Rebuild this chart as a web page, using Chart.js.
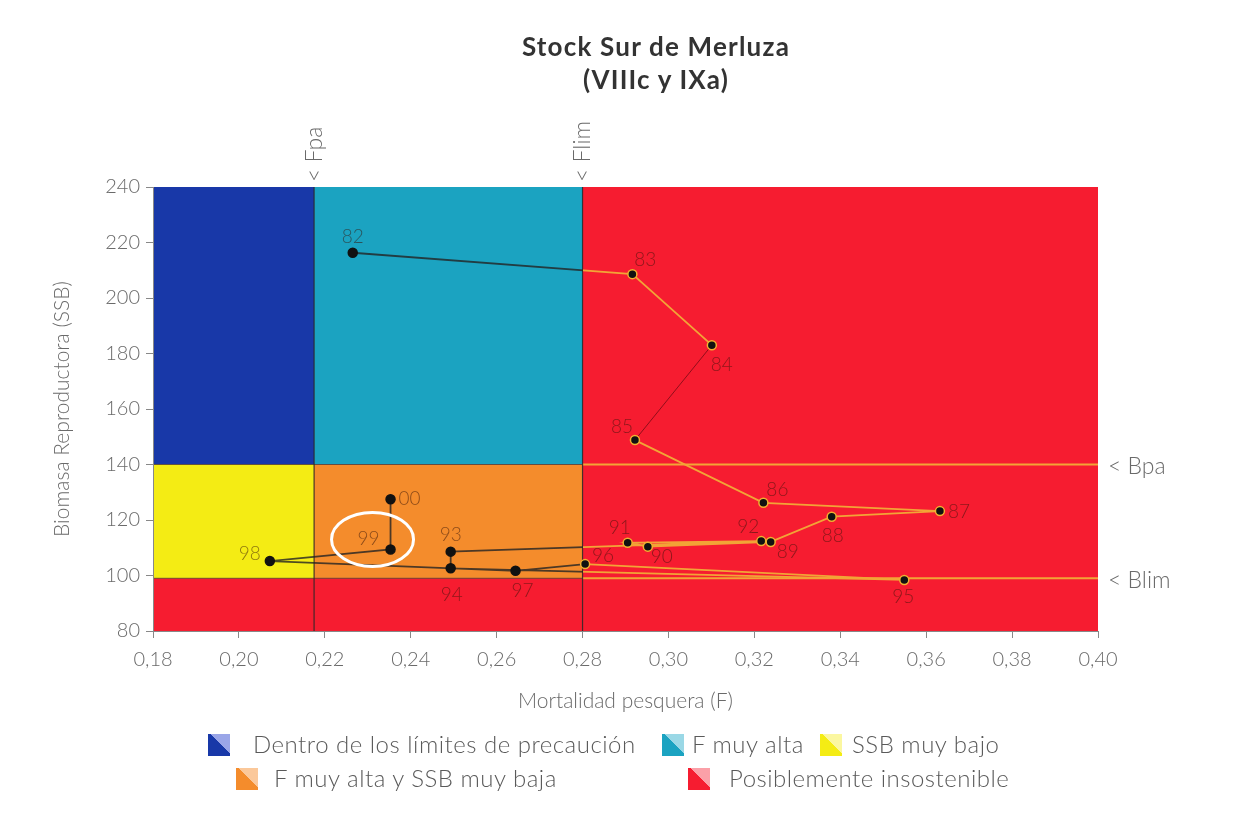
<!DOCTYPE html>
<html>
<head>
<meta charset="utf-8">
<script src="https://cdn.jsdelivr.net/npm/chart.js@4"></script>
<style>
  body { margin: 0; background: #fff; font-family: Lato, "Open Sans", sans-serif; }
  #wrap { position: relative; width: 1252px; height: 833px; }
  #chart { position: absolute; left: 0; top: 0; }
  .title { position: absolute; left: 406px; width: 500px; text-align: center; font-weight: 700; font-size: 26px; letter-spacing: 1.2px; color: #333; }
  .leg { position: absolute; font-size: 24px; font-weight: 300; letter-spacing: 0.5px; color: #5a5a5a; white-space: nowrap; line-height: 28px; }
  .cube { position: absolute; width: 22px; height: 22px; }
</style>
</head>
<body>
<div id="wrap">
  <canvas id="chart" width="1252" height="833"></canvas>
  <div class="title" style="top:30px">Stock Sur de Merluza</div>
  <div class="title" style="top:63px">(VIIIc y IXa)</div>

  <div class="cube" style="left:208px;top:734px;background:linear-gradient(to top right,#1838a8 55%,#9aa6e8 55%)"></div>
  <div class="leg" style="left:253px;top:730px">Dentro de los límites de precaución</div>
  <div class="cube" style="left:662px;top:734px;background:linear-gradient(to top right,#1ba3c1 55%,#9ad8e6 55%)"></div>
  <div class="leg" style="left:692px;top:730px">F muy alta</div>
  <div class="cube" style="left:820px;top:734px;background:linear-gradient(to top right,#f4ec14 55%,#fbf7a0 55%)"></div>
  <div class="leg" style="left:852px;top:730px">SSB muy bajo</div>

  <div class="cube" style="left:236px;top:768px;background:linear-gradient(to top right,#f48c2c 55%,#fbc89a 55%)"></div>
  <div class="leg" style="left:274px;top:764px">F muy alta y SSB muy baja</div>
  <div class="cube" style="left:688px;top:768px;background:linear-gradient(to top right,#f61c30 55%,#fba0a8 55%)"></div>
  <div class="leg" style="left:729px;top:764px">Posiblemente insostenible</div>
</div>

<script>
// data
var yearLabels = ['82','83','84','85','86','87','88','89','90','91','92','93','94','95','96','97','98','99','00'];
var fValues   = [0.2265,0.2916,0.3101,0.2922,0.3221,0.3632,0.3380,0.3238,0.2952,0.2905,0.3216,0.2493,0.2493,0.3549,0.2806,0.2644,0.2072,0.2353,0.2353];
var ssbValues = [216.3,208.6,183.0,148.8,126.2,123.2,121.2,112.1,110.4,111.8,112.4,108.6,102.6,98.4,104.1,101.7,105.2,109.4,127.5];

// reference points
var FPA = 0.2175, FLIM = 0.28, BPA = 140, BLIM = 99;
var refNames = ['< Fpa', '< Flim', '< Bpa', '< Blim'];

var highlightYear = '99';

// label placement next to each point (px)
var labelOffsets = [[0,-16],[13,-14],[10,20],[-13,-13],[14,-13],[19,1],[1,19],[17,10],[14,10],[-8,-15],
                    [-13,-14],[0,-17],[1,27],[-1,17],[18,-8],[7,20],[-20,-7],[-22,-11],[19,0]];

var BLUE = '#1838a8', TEAL = '#1ba3c1', RED = '#f61c30', YELLOW = '#f4ec14', ORANGE = '#f48c2c';
var LINE_DARK = 'rgba(35,35,35,0.8)', LINE_ORANGE = '#f2a436';
var GREY_TEXT = '#6a6a6a';

var points = fValues.map(function (f, i) { return {x: f, y: ssbValues[i]}; });

function rect(ctx, xs, ys, x0, x1, y0, y1, color) {
  var l = xs.getPixelForValue(x0), r = xs.getPixelForValue(x1);
  var t = ys.getPixelForValue(y1), b = ys.getPixelForValue(y0);
  ctx.fillStyle = color;
  ctx.fillRect(l, t, r - l, b - t);
}

function hline(ctx, xs, ys, x0, x1, y, color, w) {
  var py = ys.getPixelForValue(y);
  ctx.strokeStyle = color; ctx.lineWidth = w;
  ctx.beginPath();
  ctx.moveTo(xs.getPixelForValue(x0), py);
  ctx.lineTo(xs.getPixelForValue(x1), py);
  ctx.stroke();
}

var zonesPlugin = {
  id: 'zones',
  beforeDraw: function (chart) {
    var ctx = chart.ctx, xs = chart.scales.x, ys = chart.scales.y;
    var xmin = xs.min, xmax = xs.max, ymin = ys.min, ymax = ys.max;
    ctx.save();
    rect(ctx, xs, ys, xmin, xmax, ymin, ymax, RED);
    rect(ctx, xs, ys, xmin, FPA, BPA, ymax, BLUE);
    rect(ctx, xs, ys, FPA, FLIM, BPA, ymax, TEAL);
    rect(ctx, xs, ys, xmin, FPA, BLIM, BPA, YELLOW);
    rect(ctx, xs, ys, FPA, FLIM, BLIM, BPA, ORANGE);

    // boundary lines
    hline(ctx, xs, ys, xmin, FLIM, BPA, 'rgba(60,60,60,0.7)', 1);
    hline(ctx, xs, ys, xmin, FLIM, BLIM, 'rgba(60,60,60,0.7)', 1);
    hline(ctx, xs, ys, FLIM, xmax, BPA, LINE_ORANGE, 2);
    hline(ctx, xs, ys, FLIM, xmax, BLIM, LINE_ORANGE, 2);

    ctx.strokeStyle = 'rgba(40,40,40,0.85)';
    ctx.lineWidth = 1.2;
    [FPA, FLIM].forEach(function (v) {
      var px = xs.getPixelForValue(v);
      ctx.beginPath();
      ctx.moveTo(px, chart.chartArea.top);
      ctx.lineTo(px, chart.chartArea.bottom);
      ctx.stroke();
    });
    ctx.restore();
  },
  afterDraw: function (chart) {
    var ctx = chart.ctx, xs = chart.scales.x, ys = chart.scales.y, area = chart.chartArea;
    var meta = chart.getDatasetMeta(0);
    ctx.save();

    // ring round the highlighted year
    var hi = yearLabels.indexOf(highlightYear);
    var hp = meta.data[hi];
    ctx.strokeStyle = '#fff';
    ctx.lineWidth = 3;
    ctx.beginPath();
    ctx.ellipse(hp.x - 18, hp.y - 10, 41, 27, 0, 0, Math.PI * 2);
    ctx.stroke();

    // year labels
    ctx.font = '300 19px Lato, "Open Sans", sans-serif';
    ctx.fillStyle = 'rgba(55,20,10,0.55)';
    ctx.textAlign = 'center';
    ctx.textBaseline = 'middle';
    meta.data.forEach(function (p, i) {
      ctx.fillText(yearLabels[i], p.x + labelOffsets[i][0], p.y + labelOffsets[i][1]);
    });

    // reference names
    ctx.fillStyle = GREY_TEXT;
    ctx.font = '300 23px Lato, "Open Sans", sans-serif';
    ctx.textAlign = 'left';
    ctx.fillText(refNames[2], area.right + 10, ys.getPixelForValue(BPA) + 2);
    ctx.fillText(refNames[3], area.right + 10, ys.getPixelForValue(BLIM) + 2);

    [[FPA, refNames[0]], [FLIM, refNames[1]]].forEach(function (r) {
      ctx.save();
      ctx.translate(xs.getPixelForValue(r[0]), area.top - 5);
      ctx.rotate(-Math.PI / 2);
      ctx.fillText(r[1], 0, 0);
      ctx.restore();
    });
    ctx.restore();
  }
};

function lineColor(c) {
  var chart = c.chart, area = chart.chartArea;
  if (!area) return LINE_DARK;
  var px = chart.scales.x.getPixelForValue(FLIM);
  var stop = (px - area.left) / (area.right - area.left);
  var g = chart.ctx.createLinearGradient(area.left, 0, area.right, 0);
  g.addColorStop(0, LINE_DARK);
  g.addColorStop(stop, LINE_DARK);
  g.addColorStop(stop, LINE_ORANGE);
  g.addColorStop(1, LINE_ORANGE);
  return g;
}

var ctx = document.getElementById('chart').getContext('2d');
var chart = new Chart(ctx, {
  type: 'scatter',
  data: {
    datasets: [{
      data: points,
      showLine: true,
      borderColor: lineColor,
      borderWidth: 1.8,
      segment: {
        borderColor: function (c) { return c.p0DataIndex === 2 ? 'rgba(120,10,20,0.8)' : undefined; },
        borderWidth: function (c) { return c.p0DataIndex === 2 ? 1 : undefined; }
      },
      pointRadius: 4.5,
      pointBorderWidth: 1.5,
      pointBackgroundColor: '#111',
      pointBorderColor: function (c) {
        var v = c.raw;
        return v && v.x >= FLIM ? '#f2b030' : '#111';
      }
    }]
  },
  plugins: [zonesPlugin],
  options: {
    responsive: false,
    animation: false,
    layout: { padding: { top: 187, right: 154, bottom: 119, left: 0 } },
    plugins: { legend: { display: false }, tooltip: { enabled: false } },
    scales: {
      x: {
        type: 'linear',
        min: 0.18, max: 0.40,
        afterFit: function (s) { s.height = 83; },
        ticks: {
          stepSize: 0.02,
          padding: 10,
          color: GREY_TEXT,
          font: { family: 'Lato', size: 20, weight: '300' },
          callback: function (v) { return v.toFixed(2).replace('.', ','); }
        },
        grid: { drawOnChartArea: false, tickLength: 7, color: '#888' },
        border: { color: '#888' },
        title: {
          display: true,
          text: 'Mortalidad pesquera (F)',
          color: GREY_TEXT,
          font: { family: 'Lato', size: 21, weight: '300' },
          padding: { top: 0, bottom: 0 }
        }
      },
      y: {
        min: 80, max: 240,
        afterFit: function (s) { s.width = 153; },
        ticks: {
          stepSize: 20,
          padding: 6,
          color: GREY_TEXT,
          font: { family: 'Lato', size: 20, weight: '300' }
        },
        grid: { drawOnChartArea: false, tickLength: 7, color: '#888' },
        border: { color: '#888' },
        title: {
          display: true,
          text: 'Biomasa Reproductora (SSB)',
          color: GREY_TEXT,
          font: { family: 'Lato', size: 21, weight: '300' },
          padding: { top: 50, bottom: 0 }
        }
      }
    }
  }
});
</script>
</body>
</html>
